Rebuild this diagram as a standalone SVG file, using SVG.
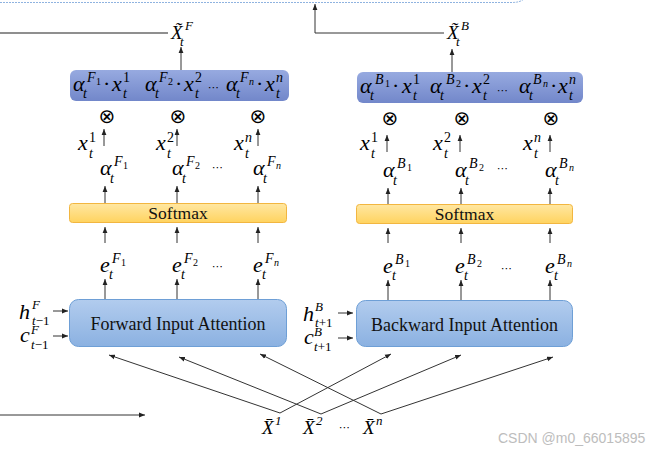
<svg xmlns="http://www.w3.org/2000/svg" width="663" height="454" viewBox="0 0 663 454">
<defs>
<linearGradient id="gBlue" x1="0" y1="0" x2="0" y2="1"><stop offset="0" stop-color="#B2CCEE"/><stop offset="1" stop-color="#8BB1E1"/></linearGradient>
<linearGradient id="gSoft" x1="0" y1="0" x2="0" y2="1"><stop offset="0" stop-color="#FFE7A2"/><stop offset="1" stop-color="#FFD35F"/></linearGradient>
<linearGradient id="gPurp" x1="0" y1="0" x2="0" y2="1"><stop offset="0" stop-color="#97AAE0"/><stop offset="1" stop-color="#7287CA"/></linearGradient>
<marker id="ah" markerUnits="userSpaceOnUse" markerWidth="6" markerHeight="6" refX="6" refY="3" orient="auto"><path d="M0,0.6 L6,3 L0,5.4 z" fill="#222"/></marker>
</defs>
<style>
.ar{stroke:#333;stroke-width:1;fill:none;marker-end:url(#ah)}
.gl{stroke:#6a6a6a;stroke-width:1.3;fill:none}
.m{font-family:"Liberation Serif",serif;font-style:italic;font-size:22px;fill:#000}
.s{font-family:"Liberation Serif",serif;font-style:italic;font-size:14px;fill:#000}
.ss{font-family:"Liberation Serif",serif;font-style:italic;font-size:13px;fill:#000}
.d{font-family:"Liberation Serif",serif;font-style:normal;font-size:10px;fill:#000}
.di{font-family:"Liberation Serif",serif;font-style:italic;font-size:10px;fill:#000}
.n{font-style:normal}
.X{font-family:"Liberation Serif",serif;font-style:italic;font-size:19px;fill:#000}
.xs{font-family:"Liberation Serif",serif;font-style:italic;font-size:13px;fill:#000}
.lbl{font-family:"Liberation Serif",serif;font-size:18px;text-anchor:middle;fill:#111}
.sm{font-family:"Liberation Serif",serif;font-size:17.5px;text-anchor:middle;fill:#111}
.dots{font-family:"DejaVu Sans",sans-serif;font-size:11px;fill:#000}
.ot{font-family:"DejaVu Sans",sans-serif;font-size:20px;text-anchor:middle;fill:#000}
.box{stroke:#6E9FD6;stroke-width:1}
.sbox{stroke:#F2B640;stroke-width:1}
</style>

<path d="M0 2.5 H512 Q520 2.5 524 -1" fill="none" stroke="#8FB3E0" stroke-width="1" stroke-dasharray="2 1"/>

<g id="connectors">
  <path class="gl" d="M0 33 H168"/>
  <path class="ar" d="M444 33 H315 V4"/>
  <path class="ar" d="M181 70 V47"/>
  <path class="ar" d="M452 72 V49"/>
  <path class="ar" d="M104 146 V129"/>
  <path class="ar" d="M177 146 V129"/>
  <path class="ar" d="M258 146 V129"/>
  <path class="ar" d="M105 203 V186"/>
  <path class="ar" d="M177 203 V186"/>
  <path class="ar" d="M258 203 V186"/>
  <path class="ar" d="M105 243 V227"/>
  <path class="ar" d="M177 243 V227"/>
  <path class="ar" d="M258 243 V227"/>
  <path class="ar" d="M105 299 V279"/>
  <path class="ar" d="M177 299 V279"/>
  <path class="ar" d="M258 299 V279"/>
  <path class="ar" d="M387 152 V135"/>
  <path class="ar" d="M460 152 V135"/>
  <path class="ar" d="M550 152 V135"/>
  <path class="ar" d="M388 204 V188"/>
  <path class="ar" d="M461 204 V188"/>
  <path class="ar" d="M550 204 V188"/>
  <path class="ar" d="M388 243 V228"/>
  <path class="ar" d="M461 243 V228"/>
  <path class="ar" d="M550 243 V228"/>
  <path class="ar" d="M388 300 V280"/>
  <path class="ar" d="M461 300 V280"/>
  <path class="ar" d="M550 300 V280"/>
  <path class="ar" d="M53 311 H68"/>
  <path class="ar" d="M53 336 H68"/>
  <path class="ar" d="M338 313 H353"/>
  <path class="ar" d="M338 338 H353"/>
  <path class="ar" d="M280 413 L109 355"/>
  <path class="ar" d="M280 413 L391 354"/>
  <path class="ar" d="M321 414 L179 357"/>
  <path class="ar" d="M321 414 L461 355"/>
  <path class="ar" d="M381 414 L260 354"/>
  <path class="ar" d="M381 414 L553 357"/>
  <path class="ar" d="M0 415 H145"/>
</g>

<g id="fwd-output">
  <text class="X" x="171" y="39">X̃</text><text class="xs" x="185" y="30">F</text><text class="xs" x="180" y="46">t</text>
</g>
<g id="fwd-product">
  <rect x="70" y="70" width="219" height="31" rx="6" fill="url(#gPurp)"/>
  <text class="m" x="73" y="91">α</text><text class="s" x="83" y="98">t</text><text class="s" x="87" y="82">F</text><text class="d" x="96" y="85">1</text>
  <text class="m n" x="103" y="91">·</text>
  <text class="m" x="112" y="91">x</text><text class="s n" x="123" y="82">1</text><text class="s" x="123" y="98">t</text>
  <text class="m" x="145" y="91">α</text><text class="s" x="155" y="98">t</text><text class="s" x="159" y="82">F</text><text class="d" x="168" y="85">2</text>
  <text class="m n" x="175" y="91">·</text>
  <text class="m" x="184" y="91">x</text><text class="s n" x="195" y="82">2</text><text class="s" x="195" y="98">t</text>
  <text class="dots" x="208" y="91">⋯</text>
  <text class="m" x="226" y="91">α</text><text class="s" x="236" y="98">t</text><text class="s" x="240" y="82">F</text><text class="di" x="249" y="85">n</text>
  <text class="m n" x="256" y="91">·</text>
  <text class="m" x="265" y="91">x</text><text class="s" x="276" y="82">n</text><text class="s" x="276" y="98">t</text>
</g>
<g id="fwd-mult">
  <text class="ot" x="107" y="123">⊗</text>
  <text class="ot" x="178" y="123">⊗</text>
  <text class="ot" x="258" y="123">⊗</text>
  <text class="m" x="78" y="150">x</text><text class="s n" x="89" y="142">1</text><text class="s" x="89" y="158">t</text>
  <text class="m" x="156" y="150">x</text><text class="s n" x="167" y="142">2</text><text class="s" x="167" y="158">t</text>
  <text class="m" x="234" y="150">x</text><text class="s" x="245" y="142">n</text><text class="s" x="245" y="158">t</text>
</g>
<g id="fwd-alpha">
  <text class="m" x="100" y="175">α</text><text class="s" x="110" y="183">t</text><text class="s" x="114" y="166">F</text><text class="d" x="123" y="169">1</text>
  <text class="m" x="172" y="175">α</text><text class="s" x="182" y="183">t</text><text class="s" x="186" y="166">F</text><text class="d" x="195" y="169">2</text>
  <text class="dots" x="212" y="171">⋯</text>
  <text class="m" x="253" y="175">α</text><text class="s" x="263" y="183">t</text><text class="s" x="267" y="166">F</text><text class="di" x="276" y="169">n</text>
</g>
<g id="fwd-softmax">
  <rect x="69.5" y="203.5" width="217" height="19" rx="3" fill="url(#gSoft)" class="sbox"/>
  <text class="sm" x="178" y="219">Softmax</text>
</g>
<g id="fwd-energy">
  <text class="m" x="100" y="272">e</text><text class="s" x="109" y="279">t</text><text class="s" x="112" y="263">F</text><text class="d" x="121" y="266">1</text>
  <text class="m" x="172" y="272">e</text><text class="s" x="181" y="279">t</text><text class="s" x="184" y="263">F</text><text class="d" x="193" y="266">2</text>
  <text class="dots" x="212" y="270">⋯</text>
  <text class="m" x="253" y="272">e</text><text class="s" x="262" y="279">t</text><text class="s" x="265" y="263">F</text><text class="di" x="274" y="266">n</text>
</g>
<g id="fwd-attn">
  <rect x="69.5" y="299.5" width="217" height="47" rx="9" fill="url(#gBlue)" class="box"/>
  <text class="lbl" x="178" y="330">Forward Input Attention</text>
</g>
<g id="fwd-state">
  <text class="m" x="19" y="319">h</text><text class="ss" x="32" y="309">F</text><text class="ss" x="32" y="325">t<tspan class="n">−1</tspan></text>
  <text class="m" x="20" y="342">c</text><text class="ss" x="31" y="334">F</text><text class="ss" x="31" y="349">t<tspan class="n">−1</tspan></text>
</g>

<g id="bwd-output">
  <text class="X" x="447" y="39">X̃</text><text class="xs" x="461" y="30">B</text><text class="xs" x="456" y="46">t</text>
</g>
<g id="bwd-product">
  <rect x="357" y="72" width="226" height="31" rx="6" fill="url(#gPurp)"/>
  <text class="m" x="360" y="93">α</text><text class="s" x="370" y="100">t</text><text class="s" x="375" y="84">B</text><text class="d" x="385" y="87">1</text>
  <text class="m n" x="392" y="93">·</text>
  <text class="m" x="402" y="93">x</text><text class="s n" x="413" y="84">1</text><text class="s" x="413" y="100">t</text>
  <text class="m" x="430" y="93">α</text><text class="s" x="440" y="100">t</text><text class="s" x="446" y="84">B</text><text class="d" x="456" y="87">2</text>
  <text class="m n" x="463" y="93">·</text>
  <text class="m" x="472" y="93">x</text><text class="s n" x="483" y="84">2</text><text class="s" x="483" y="100">t</text>
  <text class="dots" x="497" y="94">⋯</text>
  <text class="m" x="519" y="93">α</text><text class="s" x="529" y="100">t</text><text class="s" x="533" y="84">B</text><text class="di" x="543" y="87">n</text>
  <text class="m n" x="550" y="93">·</text>
  <text class="m" x="558" y="93">x</text><text class="s" x="569" y="84">n</text><text class="s" x="569" y="100">t</text>
</g>
<g id="bwd-mult">
  <text class="ot" x="390" y="125">⊗</text>
  <text class="ot" x="462" y="125">⊗</text>
  <text class="ot" x="551" y="125">⊗</text>
  <text class="m" x="360" y="150">x</text><text class="s n" x="371" y="142">1</text><text class="s" x="371" y="158">t</text>
  <text class="m" x="433" y="150">x</text><text class="s n" x="444" y="142">2</text><text class="s" x="444" y="158">t</text>
  <text class="m" x="523" y="150">x</text><text class="s" x="534" y="142">n</text><text class="s" x="534" y="158">t</text>
</g>
<g id="bwd-alpha">
  <text class="m" x="383" y="177">α</text><text class="s" x="393" y="185">t</text><text class="s" x="397" y="168">B</text><text class="d" x="407" y="171">1</text>
  <text class="m" x="455" y="177">α</text><text class="s" x="465" y="185">t</text><text class="s" x="469" y="168">B</text><text class="d" x="479" y="171">2</text>
  <text class="dots" x="497" y="172">⋯</text>
  <text class="m" x="545" y="177">α</text><text class="s" x="555" y="185">t</text><text class="s" x="559" y="168">B</text><text class="di" x="569" y="171">n</text>
</g>
<g id="bwd-softmax">
  <rect x="356.5" y="204.5" width="216" height="19" rx="3" fill="url(#gSoft)" class="sbox"/>
  <text class="sm" x="464.5" y="220">Softmax</text>
</g>
<g id="bwd-energy">
  <text class="m" x="383" y="273">e</text><text class="s" x="392" y="280">t</text><text class="s" x="395" y="264">B</text><text class="d" x="405" y="267">1</text>
  <text class="m" x="455" y="273">e</text><text class="s" x="464" y="280">t</text><text class="s" x="467" y="264">B</text><text class="d" x="477" y="267">2</text>
  <text class="dots" x="501" y="272">⋯</text>
  <text class="m" x="545" y="273">e</text><text class="s" x="554" y="280">t</text><text class="s" x="557" y="264">B</text><text class="di" x="567" y="267">n</text>
</g>
<g id="bwd-attn">
  <rect x="356.5" y="300.5" width="216" height="46" rx="9" fill="url(#gBlue)" class="box"/>
  <text class="lbl" x="464.5" y="331">Backward Input Attention</text>
</g>
<g id="bwd-state">
  <text class="m" x="303" y="321">h</text><text class="ss" x="315" y="311">B</text><text class="ss" x="315" y="327">t<tspan class="n">+1</tspan></text>
  <text class="m" x="304" y="344">c</text><text class="ss" x="314" y="336">B</text><text class="ss" x="314" y="351">t<tspan class="n">+1</tspan></text>
</g>

<g id="inputs">
  <text class="X" x="262" y="434">X̄</text><text class="xs n" x="275" y="425">1</text>
  <text class="X" x="303" y="434">X̄</text><text class="xs n" x="316" y="425">2</text>
  <text class="dots" x="339" y="431">⋯</text>
  <text class="X" x="363" y="434">X̄</text><text class="xs" x="376" y="425">n</text>
</g>

<text x="498" y="443" font-family="Liberation Sans, sans-serif" font-size="14" fill="#bdbdbd">CSDN @m0_66015895</text>
</svg>
